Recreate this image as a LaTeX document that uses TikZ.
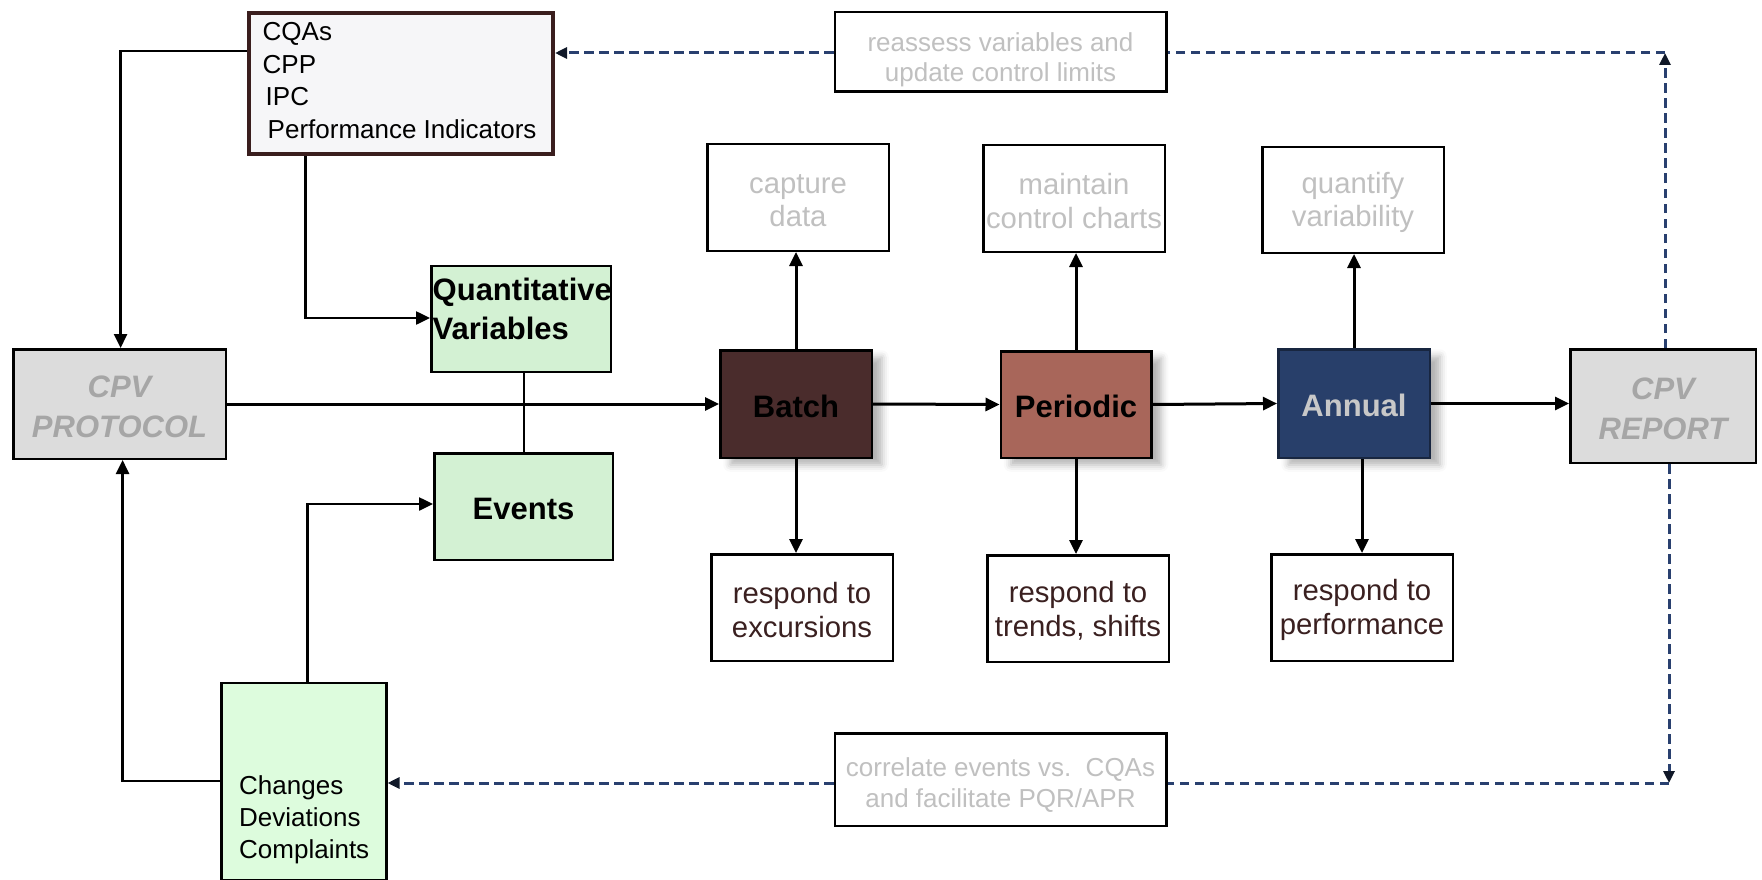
\documentclass[tikz,border=0pt]{standalone}
\usepackage{fontspec}
\setmainfont{Liberation Sans}
\usetikzlibrary{arrows.meta,shadows.blur}
\definecolor{cqfill}{HTML}{F6F6F8}
\definecolor{cqborder}{HTML}{3A1E1E}
\definecolor{grn}{HTML}{D3F1D3}
\definecolor{grnl}{HTML}{DDFCDD}
\definecolor{gbox}{HTML}{DCDCDC}
\definecolor{gtxt}{HTML}{A6A6A6}
\definecolor{ltxt}{HTML}{C0C0C0}
\definecolor{btxt}{HTML}{3A2020}
\definecolor{batchc}{HTML}{4A2C2C}
\definecolor{perc}{HTML}{A8665A}
\definecolor{annc}{HTML}{283F6A}
\definecolor{anntxt}{HTML}{C8C8C8}
\definecolor{navy}{HTML}{29406F}
\definecolor{tipc}{HTML}{101828}
\newcommand\tsp[1]{\rule{0pt}{#1}}
\begin{document}
\begin{tikzpicture}[x=1pt,y=-1pt,
  box/.style={draw=black, line width=2.5pt, inner sep=0pt, align=center, fill=white},
  reg/.style={font=\fontsize{26}{33}\selectfont},
  sml/.style={font=\fontsize{29.3}{33.5}\selectfont},
  bld/.style={font=\fontsize{31}{40}\selectfont\bfseries},
  bldit/.style={font=\fontsize{31}{40}\selectfont\bfseries\itshape},
  shd/.style={blur shadow={shadow xshift=10pt, shadow yshift=-7pt, shadow opacity=30, shadow blur radius=7pt}},
  arr/.style={line width=3pt, -{Triangle[length=14pt,width=13pt]}},
  arrt/.style={line width=2.5pt, -{Triangle[length=14pt,width=13pt]}},
  dsh/.style={draw=navy, line width=3pt, dash pattern=on 9.5pt off 5.5pt},
  dtip/.style={-{Triangle[length=12pt,width=11pt,color=tipc]}}
]
\useasboundingbox (0,0) rectangle (1762,880);

% left column
\node[box, fill=cqfill, draw=cqborder, line width=4pt, minimum width=304pt, minimum height=141pt] (cqa) at (401,83.5) {};
\node[anchor=north west, align=left, inner sep=0pt, font=\fontsize{26}{32.5}\selectfont] (cqatxt) at (262.5,22.5) {CQAs\\CPP\\\hspace{3pt}IPC\\\hspace{5pt}Performance Indicators};

\node[box, fill=gbox, text=gtxt, bldit, minimum width=212.5pt, minimum height=109.5pt] (prot) at (119.5,404) {\tsp{26.5pt}CPV\\PROTOCOL};

\node[box, fill=grn, minimum width=179.5pt, minimum height=106pt] (qv) at (521,319) {};
\node[anchor=north west, align=left, inner sep=0pt, font=\fontsize{31}{39}\selectfont\bfseries] (qvtxt) at (432.5,278) {Quantitative\\Variables};

\node[box, fill=grn, bld, minimum width=178.5pt, minimum height=106.5pt] (ev) at (523.5,506.5) {\tsp{27pt}Events};

\node[box, fill=grnl, minimum width=165pt, minimum height=197pt] (chg) at (303.75,781.5) {};
\node[anchor=north west, align=left, inner sep=0pt, font=\fontsize{26}{32}\selectfont] (chgtxt) at (239,775) {Changes\\Deviations\\Complaints};

% main row
\node[box, fill=batchc, bld, text=black, minimum width=151.5pt, minimum height=107.5pt, shd] (batch) at (796,404) {\tsp{27pt}Batch};
\node[box, fill=perc, bld, text=black, minimum width=150.5pt, minimum height=106.5pt, shd] (per) at (1076,404.5) {\tsp{27pt}Periodic};
\node[box, fill=annc, draw=annc!60!black, bld, text=anntxt, minimum width=151.5pt, minimum height=108.5pt, shd] (ann) at (1354,403.5) {\tsp{27pt}Annual};
\node[box, fill=gbox, text=gtxt, bldit, minimum width=185.5pt, minimum height=113.5pt] (rep) at (1663,406) {\tsp{26.5pt}CPV\\REPORT};

% upper boxes
\node[box, sml, text=ltxt, minimum width=181.5pt, minimum height=106.5pt] (cap) at (798,197.5) {\tsp{25pt}capture\\data};
\node[box, sml, text=ltxt, minimum width=181.5pt, minimum height=106.5pt] (mnt) at (1074,198.5) {\tsp{26pt}maintain\\control charts};
\node[box, sml, text=ltxt, minimum width=181.5pt, minimum height=105.5pt] (qnt) at (1353,200) {\tsp{26pt}quantify\\variability};

% lower boxes
\node[box, sml, text=btxt, minimum width=181.5pt, minimum height=106.5pt] (rex) at (802,607.5) {\tsp{26pt}respond to\\excursions};
\node[box, sml, text=btxt, minimum width=181.5pt, minimum height=106.5pt] (rtr) at (1078,608.5) {\tsp{26pt}respond to\\trends, shifts};
\node[box, sml, text=btxt, minimum width=181.5pt, minimum height=106.5pt] (rpf) at (1362,607.5) {\tsp{26pt}respond to\\performance};

% feedback boxes
\node[box, text=ltxt, font=\fontsize{26}{29.5}\selectfont, minimum width=331.5pt, minimum height=79.5pt] (reas) at (1000.5,52) {\tsp{34pt}reassess variables and\\update control limits};
\node[box, text=ltxt, font=\fontsize{26}{30.5}\selectfont, minimum width=331.5pt, minimum height=92.5pt] (corr) at (1000.5,779.5) {\tsp{30pt}correlate events vs.\ \ CQAs\\and facilitate PQR/APR};

% connectors left
\coordinate (k1) at (120.6,51);
\draw[arrt] (cqa.west |- k1) -- (k1) -- (k1 |- prot.north);
\coordinate (k2) at (305.7,318);
\draw[arrt] (k2 |- cqa.south) -- (k2) -- (k2 -| qv.west);
\coordinate (k9) at (524,0);
\draw[line width=2pt] (k9 |- ev.north) -- (k9 |- qv.south);
\coordinate (k3) at (307.6,504);
\draw[arrt] (k3 |- chg.north) -- (k3) -- (k3 -| ev.west);
\coordinate (k4) at (122.6,781);
\draw[arrt] (k4 -| chg.west) -- (k4) -- (k4 |- prot.south);

% main flow
\draw[arr] (prot.east) -- (batch.west);
\draw[arr] (batch.east) -- (per.west);
\draw[arr] (per.east) -- (ann.west);
\draw[arr] (ann.east) -- (ann.east -| rep.west);

% verticals
\draw[arr] (batch.north) -- (batch.north |- cap.south);
\draw[arr] (batch.south) -- (batch.south |- rex.north);
\draw[arr] (per.north) -- (per.north |- mnt.south);
\draw[arr] (per.south) -- (per.south |- rtr.north);
\draw[arr] (ann.north) -- (ann.north |- qnt.south);
\draw[arr] (rpf.north |- ann.south) -- (rpf.north);

% dashed feedback
\coordinate (k6) at (1665,53);
\draw[dsh, dtip] (k6 |- rep.north) -- (k6);
\draw[dsh] (k6) -- (k6 -| reas.east);
\draw[dsh, dtip] (k6 -| reas.west) -- (k6 -| cqa.east);
\coordinate (k7) at (1669,783);
\draw[dsh, dtip] (k7 |- rep.south) -- (k7);
\draw[dsh] (k7) -- (k7 -| corr.east);
\draw[dsh, dtip] (k7 -| corr.west) -- (k7 -| chg.east);
\end{tikzpicture}
\end{document}
